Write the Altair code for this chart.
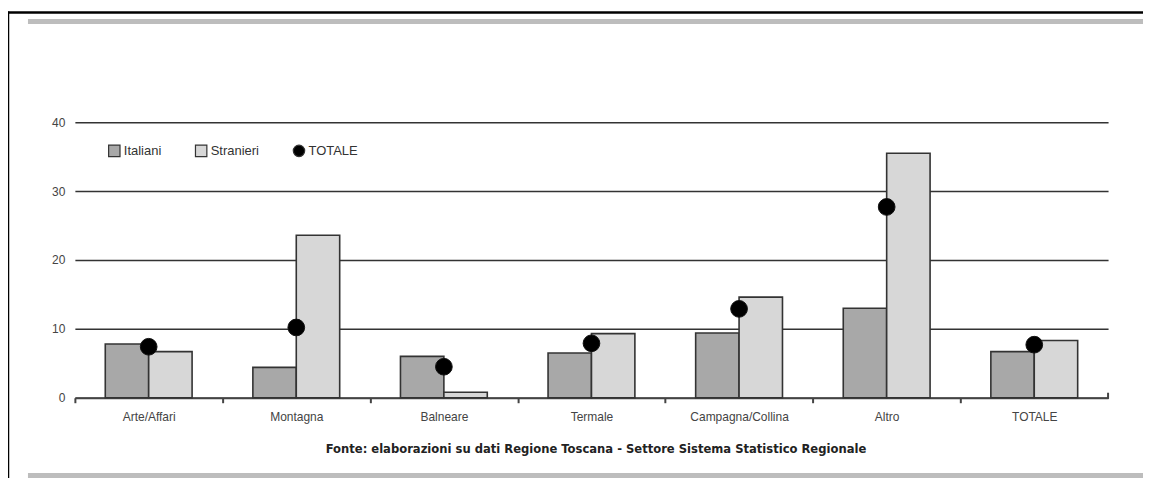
import altair as alt
import pandas as pd

categorie = ["Arte/Affari", "Montagna", "Balneare", "Termale", "Campagna/Collina", "Altro", "TOTALE"]
italiani = [7.8, 4.4, 6.0, 6.5, 9.4, 13.0, 6.7]
stranieri = [6.7, 23.6, 0.8, 9.3, 14.6, 35.5, 8.3]
totale = [7.4, 10.2, 4.5, 7.9, 12.9, 27.7, 7.7]
serie = ["Italiani", "Stranieri", "TOTALE"]
y_ticks = [0, 10, 20, 30, 40]
fonte = "Fonte: elaborazioni su dati Regione Toscana - Settore Sistema Statistico Regionale"

bars_df = pd.DataFrame({
    "categoria": categorie * 2,
    "serie": ["Italiani"] * len(categorie) + ["Stranieri"] * len(categorie),
    "valore": italiani + stranieri,
})
tot_df = pd.DataFrame({"categoria": categorie, "serie": "TOTALE", "valore": totale})
deco = pd.DataFrame({"k": [0]})
fonte_df = pd.DataFrame({"t": [fonte]})

W, H = 1035, 276
FONT = "Liberation Sans"

color_scale = alt.Scale(domain=serie, range=["#a8a8a8", "#d7d7d7", "#000000"])
shape_scale = alt.Scale(domain=serie, range=["square", "square", "circle"])
x_scale = alt.Scale(domain=categorie, paddingInner=0, paddingOuter=0)
y_scale = alt.Scale(domain=[0, 40], nice=False)

legend = alt.Legend(
    title=None, orient="none", legendX=33, legendY=22, direction="horizontal",
    labelFont=FONT, labelFontSize=13, labelColor="#333", symbolSize=130,
    symbolStrokeColor="#333", symbolStrokeWidth=1.2, columnPadding=31, labelOffset=3,
)

x_axis = alt.Axis(
    title=None, bandPosition=0, labelAngle=0, labelFont=FONT, labelFontSize=12,
    labelColor="#444", labelPadding=9, domainColor="#444", domainWidth=2,
    tickColor="#444", tickWidth=2, tickSize=5, tickOffset=0, grid=False,
)
y_axis = alt.Axis(
    title=None, values=y_ticks, domain=False, ticks=False, labelPadding=10,
    labelFont=FONT, labelFontSize=12, labelColor="#444",
    gridColor="#333", gridWidth=1.5, gridOpacity=1,
)

bars = alt.Chart(bars_df).mark_bar(stroke="#333", strokeWidth=1.6).encode(
    x=alt.X("categoria:N", scale=x_scale, axis=x_axis, sort=categorie),
    xOffset=alt.XOffset("serie:N", scale=alt.Scale(domain=["Italiani", "Stranieri"], paddingInner=0, paddingOuter=0.7)),
    y=alt.Y("valore:Q", scale=y_scale, axis=y_axis),
    color=alt.Color("serie:N", scale=color_scale, legend=legend),
)

points = alt.Chart(tot_df).mark_point(filled=True, size=280, opacity=1, stroke="#111", strokeWidth=1).encode(
    x=alt.X("categoria:N", sort=categorie),
    y=alt.Y("valore:Q"),
    color=alt.Color("serie:N", scale=color_scale, legend=legend),
    shape=alt.Shape("serie:N", scale=shape_scale, legend=legend),
)

end_tick = alt.Chart(deco).mark_rule(color="#444", strokeWidth=2).encode(
    x=alt.value(W), y=alt.value(H - 5), y2=alt.value(H + 1)
)
top_black = alt.Chart(deco).mark_rule(color="black", strokeWidth=2.5).encode(
    x=alt.value(-67), x2=alt.value(1080), y=alt.value(-110)
)
left_black = alt.Chart(deco).mark_rule(color="black", strokeWidth=2.5).encode(
    x=alt.value(-67), y=alt.value(-111), y2=alt.value(370)
)
gray_top = alt.Chart(deco).mark_rule(color="#bdbdbd", strokeWidth=5).encode(
    x=alt.value(-47), x2=alt.value(1080), y=alt.value(-101)
)
gray_bot = alt.Chart(deco).mark_rule(color="#bdbdbd", strokeWidth=5).encode(
    x=alt.value(-47), x2=alt.value(1080), y=alt.value(354)
)
source = alt.Chart(fonte_df).mark_text(
    font="DejaVu Sans", fontSize=11.6, fontWeight="bold", color="#222", align="center", baseline="middle"
).encode(x=alt.value(522), y=alt.value(328), text="t:N")

chart = alt.layer(
    gray_top, gray_bot, top_black, left_black, bars, points, end_tick, source
).resolve_scale(color="shared").properties(
    width=W, height=H,
    padding={"left": 67, "top": 114, "right": 35, "bottom": 80},
    autosize=alt.AutoSizeParams(type="none"),
    background="white",
).configure_view(stroke=None)

chart.save("out.html", embed_options={"renderer": "svg", "actions": False})
